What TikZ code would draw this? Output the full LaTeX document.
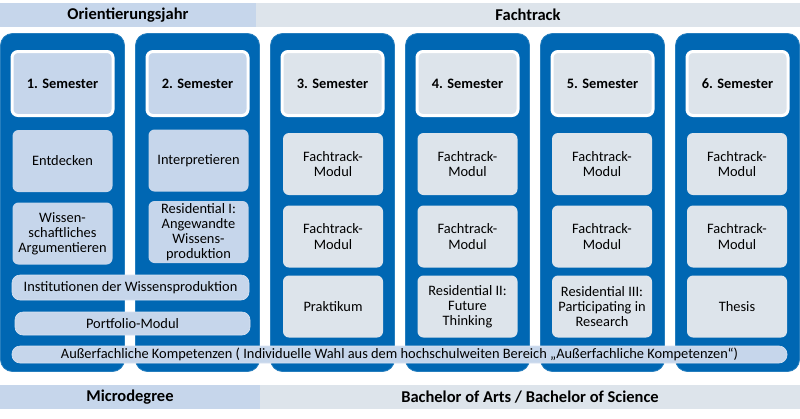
\documentclass[tikz,border=0pt]{standalone}
\usepackage{fontspec}
\setmainfont{Carlito}
\definecolor{dblue}{HTML}{0067B3}
\definecolor{lblue}{HTML}{C6D6EB}
\definecolor{lgray}{HTML}{DDE4EB}
\tikzset{
  txt/.style={font=\fontsize{14.4}{15.2}\selectfont, align=center, inner sep=0pt},
  col/.style={fill=dblue, draw=dblue!85!white, line width=0.8pt, rounded corners=12pt, minimum width=124pt, minimum height=338pt, inner sep=0pt},
  sem/.style={txt, font=\fontsize{14.4}{15.2}\selectfont\bfseries, draw=white, line width=3pt, rounded corners=6pt, minimum width=101pt, minimum height=64pt},
  modbox/.style={txt, rounded corners=6pt, minimum width=100pt, minimum height=62pt},
  bar/.style={txt, fill=lblue, draw=lblue!70!white, line width=0.6pt, rounded corners=8pt},
  head/.style={font=\fontsize{16.5}{18}\selectfont\bfseries, minimum height=24pt, inner sep=0pt}
}
\begin{document}
\begin{tikzpicture}[x=1pt,y=-1pt]
\useasboundingbox (0,0) rectangle (800,418);
\fill[white] (0,0) rectangle (800,418);
% header bars
\node[head, fill=lblue, minimum width=256pt] (hOJ) at (128,15) {Orientierungsjahr};
\node[head, fill=lgray, minimum width=544pt] (hFT) at (528,15) {Fachtrack};
\node[head, fill=lblue, minimum width=260pt] (hMD) at (130,397) {Microdegree};
\node[head, fill=lgray, minimum width=540pt] (hBA) at (530,397) {Bachelor of Arts / Bachelor of Science};
% columns
\foreach \i/\x/\c in {1/62.5/lblue,2/197.5/lblue,3/332.5/lgray,4/467.5/lgray,5/602.5/lgray,6/737.5/lgray}{
  \node[col] (col\i) at (\x,202.5) {};
  \node[sem, fill=\c] (sem\i) at (\x,83.5) {\i. Semester};
}
% column 1
\node[modbox, fill=lblue] (m11) at (62.5,161) {Entdecken};
\node[modbox, fill=lblue] (m12) at (62.5,233.5) {Wissen-\\schaftliches\\Argumentieren};
% column 2
\node[modbox, fill=lblue] (m21) at (198.5,160.5) {Interpretieren};
\node[modbox, fill=lblue] (m22) at (198.5,232) {Residential I:\\Angewandte\\Wissens-\\produktion};
% columns 3-6
\foreach \i/\x in {3/333,4/467.5,5/602,6/737}{
  \node[modbox, fill=lgray] (m\i1) at (\x,164) {Fachtrack-\\Modul};
  \node[modbox, fill=lgray] (m\i2) at (\x,236.5) {Fachtrack-\\Modul};
}
\node[modbox, fill=lgray] (m33) at (333,306.5) {Praktikum};
\node[modbox, fill=lgray] (m43) at (467.5,306.5) {Residential II:\\Future\\Thinking};
\node[modbox, fill=lgray] (m53) at (602,306.5) {Residential III:\\Participating in\\Research};
\node[modbox, fill=lgray] (m63) at (737,306.5) {Thesis};
% bars
\node[bar, minimum width=237pt, minimum height=25pt] (inst) at (130.5,287.5) {Institutionen der Wissensproduktion};
\node[bar, minimum width=235pt, minimum height=23pt] (port) at (132.5,323.5) {Portfolio-Modul};
\node[bar, minimum width=775pt, minimum height=17pt] (ausser) at (399.5,354.5) {Außerfachliche Kompetenzen ( Individuelle Wahl aus dem hochschulweiten Bereich „Außerfachliche Kompetenzen“)};
\end{tikzpicture}
\end{document}
